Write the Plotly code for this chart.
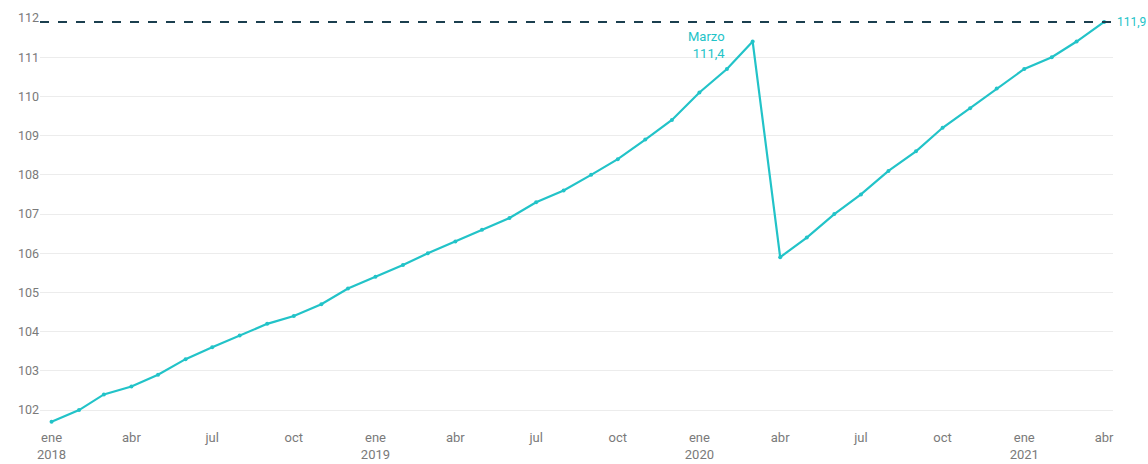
import plotly.graph_objects as go
import pandas as pd

months = pd.date_range("2018-01-01", "2021-04-01", freq="MS")
values = [
    101.7, 102.0, 102.4, 102.6, 102.9, 103.3, 103.6, 103.9, 104.2, 104.4, 104.7, 105.1,
    105.4, 105.7, 106.0, 106.3, 106.6, 106.9, 107.3, 107.6, 108.0, 108.4, 108.9, 109.4,
    110.1, 110.7, 111.4, 105.9, 106.4, 107.0, 107.5, 108.1, 108.6, 109.2, 109.7, 110.2,
    110.7, 111.0, 111.4, 111.9,
]
tick_dates = pd.date_range("2018-01-01", "2021-04-01", freq="3MS")
tick_labels = [
    "ene<br>2018", "abr", "jul", "oct",
    "ene<br>2019", "abr", "jul", "oct",
    "ene<br>2020", "abr", "jul", "oct",
    "ene<br>2021", "abr",
]
y_ticks = list(range(102, 113))
peak_label = "Marzo<br>111,4"
last_label = "111,9"
ref_value = 111.9

teal = "#22C3C8"
fig = go.Figure()
fig.add_trace(go.Scatter(
    x=months, y=values, mode="lines+markers",
    line=dict(color=teal, width=2.2),
    marker=dict(color=teal, size=4),
    hoverinfo="x+y", showlegend=False,
))

fig.add_shape(type="line", xref="paper", yref="y", x0=0, x1=1.004,
              y0=ref_value, y1=ref_value,
              line=dict(color="#1B3F4F", width=2, dash="dash"))

fig.add_annotation(x=months[26], y=values[26], text=peak_label, showarrow=False,
                   xanchor="right", yanchor="middle", xshift=-26, yshift=-3,
                   align="right", font=dict(color=teal, size=13, family="Roboto"))
fig.add_annotation(xref="paper", x=1.0, y=ref_value, text=last_label, showarrow=False,
                   xanchor="left", yanchor="middle", xshift=2,
                   font=dict(color=teal, size=12, family="Roboto"))

fig.update_layout(
    width=1148, height=464,
    margin=dict(l=40, r=35, t=18, b=39),
    plot_bgcolor="white", paper_bgcolor="white",
    font=dict(family="Roboto", size=12, color="#7a7a7a"),
    xaxis=dict(
        range=["2017-12-19", "2021-04-11"],
        tickvals=tick_dates, ticktext=tick_labels,
        showgrid=False, zeroline=False, showline=False, ticks="",
        tickfont=dict(size=13, color="#7a7a7a"), automargin=False,
        ticklabelstandoff=3,
    ),
    yaxis=dict(
        range=[101.62, 112.0],
        tickvals=y_ticks, ticktext=[str(v) for v in y_ticks],
        showgrid=True, gridcolor="#ececec", gridwidth=1,
        zeroline=False, showline=False, ticks="",
        tickfont=dict(size=12.5, color="#7a7a7a"), automargin=False,
    ),
)

fig.write_html("out.html", config={"displayModeBar": False},
               post_script="document.body.style.margin='0px';document.body.style.overflow='hidden';")
